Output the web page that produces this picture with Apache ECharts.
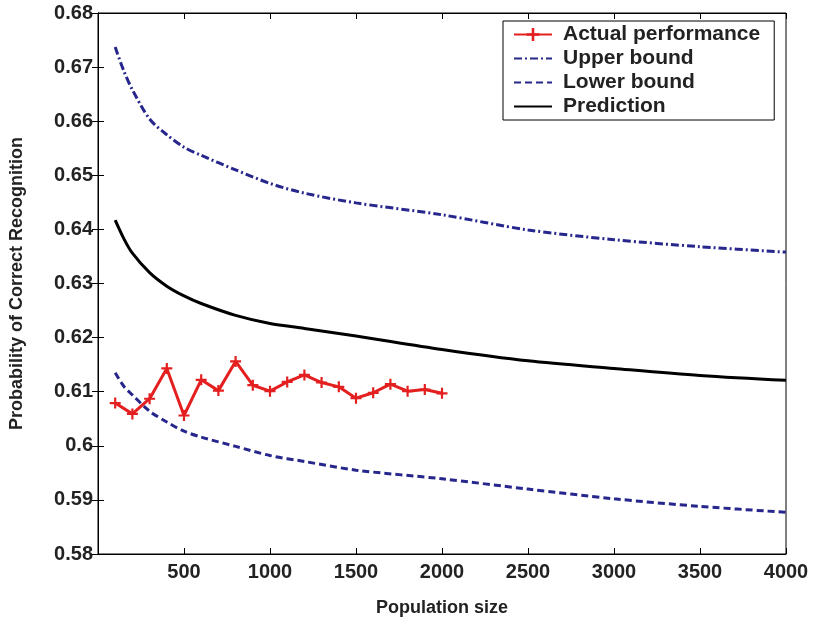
<!DOCTYPE html>
<html>
<head>
<meta charset="utf-8">
<script src="https://cdn.jsdelivr.net/npm/echarts@6/dist/echarts.min.js"></script>
<style>
  html, body { margin: 0; padding: 0; background: #fff; }
  #chart { width: 813px; height: 622px; }
</style>
</head>
<body>
<div id="chart"></div>
<script>
// recognition rate vs population size

const popSizes = [100, 150, 200, 300, 400, 500, 600, 800, 1000, 1200, 1500, 2000, 2500, 3000, 3500, 4000];
const upperBound = [0.6737, 0.6693, 0.6658, 0.6604, 0.6575, 0.6552, 0.6537, 0.6510, 0.6485, 0.6467, 0.6449, 0.6427, 0.6399, 0.6381, 0.6368, 0.6358];
const lowerBound = [0.6135, 0.6110, 0.6094, 0.6064, 0.6044, 0.6027, 0.6016, 0.5999, 0.5982, 0.5971, 0.5955, 0.5939, 0.5920, 0.5902, 0.5888, 0.5877];
const prediction = [0.6417, 0.6383, 0.6356, 0.6320, 0.6295, 0.6277, 0.6263, 0.6241, 0.6226, 0.6217, 0.6203, 0.6178, 0.6157, 0.6143, 0.6130, 0.6121];

const actualSizes = [100, 200, 300, 400, 500, 600, 700, 800, 900, 1000, 1100, 1200, 1300, 1400, 1500, 1600, 1700, 1800, 1900, 2000];
const actual = [0.6079, 0.6059, 0.6087, 0.6143, 0.6056, 0.6122, 0.6102, 0.6156, 0.6112, 0.6101, 0.6118, 0.6131, 0.6117, 0.6109, 0.6088, 0.6098, 0.6114, 0.6101, 0.6104, 0.6097];

const xTicks = [0, 500, 1000, 1500, 2000, 2500, 3000, 3500, 4000];
const yTicks = [0.58, 0.59, 0.6, 0.61, 0.62, 0.63, 0.64, 0.65, 0.66, 0.67, 0.68];

const pair = (xs, ys) => xs.map((x, i) => [x, ys[i]]);

const textColor = '#222';
const navy = '#26268c';
const plusIcon = 'path://M4,0H6V4H10V6H6V10H4V6H0V4H4Z';

const tickStyle = { inside: true, length: 6, lineStyle: { color: '#000', width: 1 } };
const boldFont = { color: textColor, fontFamily: 'Liberation Sans', fontWeight: 'bold' };

const option = {
    backgroundColor: '#fff',
    animation: false,
    grid: {
        left: 97,
        right: 27,
        top: 13,
        bottom: 68,
        show: true,
        borderColor: '#000',
        borderWidth: 1
    },
    legend: {
        orient: 'vertical',
        left: 503,
        top: 21,
        padding: [3, 14, 3, 10],
        itemGap: 3,
        itemWidth: 38,
        itemHeight: 16,
        backgroundColor: '#fff',
        borderColor: '#000',
        borderWidth: 1,
        textStyle: Object.assign({ fontSize: 21, padding: [0, 0, 0, 6] }, boldFont),
        data: [
            { name: 'Actual performance' },
            { name: 'Upper bound', itemStyle: { opacity: 0 } },
            { name: 'Lower bound', itemStyle: { opacity: 0 } },
            { name: 'Prediction', itemStyle: { opacity: 0 } }
        ]
    },
    xAxis: [
        {
            type: 'value',
            min: xTicks[0],
            max: xTicks[xTicks.length - 1],
            interval: 500,
            name: 'Population size',
            nameLocation: 'middle',
            nameGap: 45,
            nameTextStyle: Object.assign({ fontSize: 18 }, boldFont),
            axisLine: { show: true, lineStyle: { color: '#000' } },
            axisTick: tickStyle,
            axisLabel: Object.assign({
                showMinLabel: false,
                margin: 8,
                fontSize: 20,
                formatter: v => String(v)
            }, boldFont),
            splitLine: { show: false }
        },
        {
            type: 'value',
            position: 'top',
            min: xTicks[0],
            max: xTicks[xTicks.length - 1],
            interval: 500,
            axisLine: { show: true, lineStyle: { color: '#000' } },
            axisTick: tickStyle,
            axisLabel: { show: false },
            splitLine: { show: false }
        }
    ],
    yAxis: [
        {
            type: 'value',
            min: yTicks[0],
            max: yTicks[yTicks.length - 1],
            interval: 0.01,
            name: 'Probability of Correct Recognition',
            nameLocation: 'middle',
            nameGap: 72,
            nameTextStyle: Object.assign({ fontSize: 18 }, boldFont),
            axisLine: { show: true, lineStyle: { color: '#000' } },
            axisTick: tickStyle,
            axisLabel: Object.assign({
                margin: 5,
                fontSize: 20,
                formatter: v => String(+v.toFixed(2))
            }, boldFont),
            splitLine: { show: false }
        },
        {
            type: 'value',
            position: 'right',
            min: yTicks[0],
            max: yTicks[yTicks.length - 1],
            interval: 0.01,
            axisLine: { show: true, lineStyle: { color: '#000' } },
            axisTick: tickStyle,
            axisLabel: { show: false },
            splitLine: { show: false }
        }
    ],
    series: [
        {
            name: 'Actual performance',
            type: 'line',
            symbol: plusIcon,
            symbolSize: 11,
            itemStyle: { color: '#e41f1f' },
            lineStyle: { color: '#e41f1f', width: 3 },
            data: pair(actualSizes, actual),
            z: 5
        },
        {
            name: 'Upper bound',
            type: 'line',
            symbol: 'none',
            smooth: 0.3,
            itemStyle: { color: navy },
            lineStyle: { color: navy, width: 3, type: [8, 3, 2, 3] },
            data: pair(popSizes, upperBound)
        },
        {
            name: 'Lower bound',
            type: 'line',
            symbol: 'none',
            smooth: 0.3,
            itemStyle: { color: navy },
            lineStyle: { color: navy, width: 3, type: [7, 4] },
            data: pair(popSizes, lowerBound)
        },
        {
            name: 'Prediction',
            type: 'line',
            symbol: 'none',
            smooth: 0.3,
            itemStyle: { color: '#000' },
            lineStyle: { color: '#000', width: 3 },
            data: pair(popSizes, prediction)
        }
    ]
};

const chart = echarts.init(document.getElementById('chart'));
chart.setOption(option);
</script>
</body>
</html>
